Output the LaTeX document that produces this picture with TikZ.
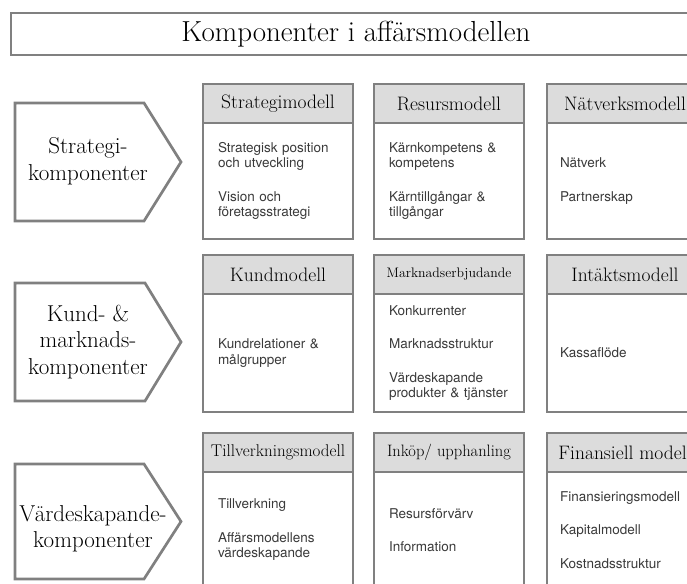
\documentclass[tikz,border=0pt]{standalone}
\usepackage{fontspec}
\newfontfamily\heros{TeX Gyre Heros}
\usetikzlibrary{positioning}
\definecolor{framegray}{HTML}{808080}
\definecolor{headgray}{HTML}{DCDCDC}
\definecolor{bodygray}{HTML}{3A3A3A}

\begin{document}
\begin{tikzpicture}[x=1pt,y=-1pt,
    frame/.style={draw=framegray,line width=2.7pt},
    titlebox/.style={frame,anchor=north west,minimum width=690pt,
                     minimum height=42pt,inner sep=0pt,outer sep=0pt,
                     font=\fontsize{29}{32}\selectfont},
    complabel/.style={align=center,font=\fontsize{23}{26.5}\selectfont},
    modhead/.style={frame,fill=headgray,anchor=north west,minimum width=150pt,
                    minimum height=39pt,inner sep=0pt,outer sep=0pt,
                    font=\fontsize{19.5}{22}\selectfont},
    modbody/.style={frame,fill=white,minimum width=150pt,text width=120pt,
                    inner xsep=15pt,outer sep=0pt,align=left,text=bodygray,
                    font=\heros\fontsize{13.5}{15.5}\selectfont},
    widehead/.style={minimum width=156pt},
    widebody/.style={minimum width=156pt,text width=130pt,inner xsep=13pt}]
    \useasboundingbox (0,0) rectangle (687,583);
    \clip (0,0) rectangle (687,583);
    \fill[white] (0,0) rectangle (687,583);

    % title
    \node[titlebox](title) at (11,13){Komponenter i affärsmodellen};

    % component arrows
    \draw[frame] (15,103)--(144,103)--(181,162)--(144,221)--(15,221)--cycle;
    \draw[frame] (15,283)--(145,283)--(181,342)--(145,401)--(15,401)--cycle;
    \draw[frame] (15,464)--(144,464)--(181,521.5)--(144,579)--(15,579)--cycle;
    \node[complabel](strat) at (88,161){Strategi-\\komponenter};
    \node[complabel](kund) at (88,342){Kund- \&\\marknads-\\komponenter};
    \node[complabel](varde) at (93,529){Värdeskapande-\\komponenter};

    % row 1
    \node[modhead](smod) at (203,84){Strategimodell};
    \node[modbody,minimum height=116pt,below=0pt of smod](sbody)
        {Strategisk position\\och utveckling\\[18pt]Vision och\\företagsstrategi};
    \node[modhead](rmod) at (374,84){Resursmodell};
    \node[modbody,minimum height=116pt,below=0pt of rmod](rbody)
        {Kärnkompetens \&\\kompetens\\[18pt]Kärntillgångar \&\\tillgångar};
    \node[modhead,widehead](nmod) at (547,84){Nätverksmodell};
    \node[modbody,widebody,minimum height=116pt,below=0pt of nmod](nbody)
        {Nätverk\\[18pt]Partnerskap};

    % row 2
    \node[modhead](kmod) at (203,255){Kundmodell};
    \node[modbody,minimum height=118pt,below=0pt of kmod](kbody)
        {Kundrelationer \&\\målgrupper};
    \node[modhead,font=\fontsize{13.8}{16}\selectfont](mmod) at (374,255){Marknadserbjudande};
    \node[modbody,minimum height=118pt,below=0pt of mmod](mbody)
        {Konkurrenter\\[18pt]Marknadsstruktur\\[18pt]Värdeskapande\\produkter \& tjänster};
    \node[modhead,widehead](imod) at (547,255){Intäktsmodell};
    \node[modbody,widebody,minimum height=118pt,below=0pt of imod](ibody)
        {Kassaflöde};

    % row 3
    \node[modhead,font=\fontsize{17}{19}\selectfont](tmod) at (203,433){Tillverkningsmodell};
    \node[modbody,minimum height=116pt,below=0pt of tmod](tbody)
        {Tillverkning\\[18pt]Affärsmodellens\\värdeskapande};
    \node[modhead,font=\fontsize{16.5}{19}\selectfont](upmod) at (374,433){Inköp/ upphanling};
    \node[modbody,minimum height=116pt,below=0pt of upmod](upbody)
        {Resursförvärv\\[18pt]Information};
    \node[modhead,widehead](fmod) at (547,433){Finansiell modell};
    \node[modbody,widebody,minimum height=116pt,below=0pt of fmod](fbody)
        {Finansieringsmodell\\[18pt]Kapitalmodell\\[18pt]Kostnadsstruktur};
\end{tikzpicture}
\end{document}
